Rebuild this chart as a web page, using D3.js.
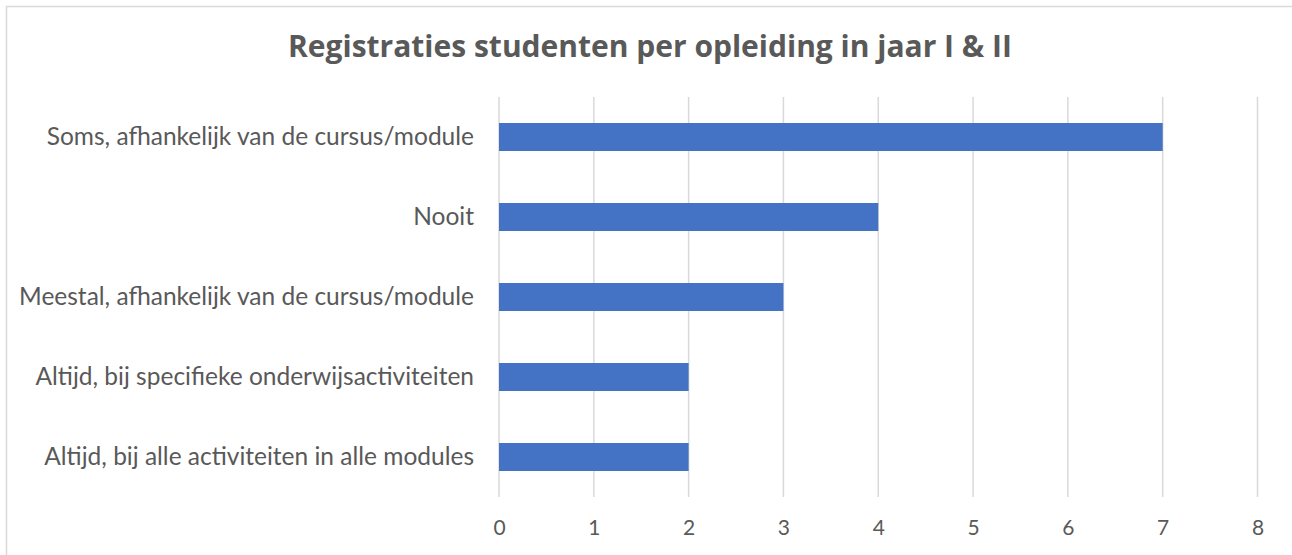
<!DOCTYPE html>
<html>
<head>
<meta charset="utf-8">
<script src="https://cdn.jsdelivr.net/npm/d3@7"></script>
<style>
  html, body { margin: 0; padding: 0; background: #fff; }
  svg { display: block; }
</style>
</head>
<body>
<svg id="chart"></svg>
<script>
// data
const categories = [
    "Soms, afhankelijk van de cursus/module",
    "Nooit",
    "Meestal, afhankelijk van de cursus/module",
    "Altijd, bij specifieke onderwijsactiviteiten",
    "Altijd, bij alle activiteiten in alle modules"
];
const values = [7, 4, 3, 2, 2];
const tickValues = [0, 1, 2, 3, 4, 5, 6, 7, 8];
const title = "Registraties studenten per opleiding in jaar I & II";

const width = 1292, height = 555;
const margin = { top: 97, left: 499, right: 34.5, bottom: 58 };
const font = "Lato, 'Open Sans', sans-serif";
const titleFont = "'Open Sans', Lato, sans-serif";
const textColor = "#595959";

const svg = d3.select("#chart")
    .attr("width", width)
    .attr("height", height);

// chart border
svg.append("rect")
    .attr("x", 6.5).attr("y", 6.5)
    .attr("width", width + 20).attr("height", height + 20)
    .attr("fill", "#fff")
    .attr("stroke", "#d9d9d9")
    .attr("stroke-width", 1.5);

const x = d3.scaleLinear()
    .domain([0, 8])
    .range([margin.left, width - margin.right]);

const y = d3.scaleBand()
    .domain(categories)
    .range([margin.top, height - margin.bottom])
    .paddingInner(0.65)
    .paddingOuter(0.325);

/* gridlines */
svg.append("g")
    .selectAll("line")
    .data(tickValues)
    .enter()
    .append("line")
    .attr("x1", d => x(d)).attr("x2", d => x(d))
    .attr("y1", margin.top).attr("y2", height - margin.bottom)
    .attr("stroke", "#d9d9d9")
    .attr("stroke-width", 1.5);

/* bars */
svg.append("g")
    .selectAll("rect")
    .data(values)
    .enter()
    .append("rect")
    .attr("x", x(0))
    .attr("y", (d, i) => y(categories[i]))
    .attr("width", d => x(d) - x(0))
    .attr("height", y.bandwidth())
    .attr("fill", "#4472c4");

/* x axis labels */
const xAxis = d3.axisBottom(x)
    .tickValues(tickValues)
    .tickSize(0)
    .tickPadding(23);

const gx = svg.append("g")
    .attr("transform", `translate(0,${height - margin.bottom})`)
    .call(xAxis);
gx.select(".domain").remove();
gx.selectAll("text")
    .attr("font-family", font)
    .attr("font-size", "21px")
    .attr("fill", textColor);

/* y axis labels */
const yAxis = d3.axisLeft(y)
    .tickSize(0)
    .tickPadding(25);

const gy = svg.append("g")
    .attr("transform", `translate(${margin.left},0)`)
    .call(yAxis);
gy.select(".domain").remove();
gy.selectAll("text")
    .attr("font-family", font)
    .attr("font-size", "24.5px")
    .attr("fill", textColor);

/* title */
svg.append("text")
    .attr("x", 650)
    .attr("y", 57)
    .attr("text-anchor", "middle")
    .attr("font-family", titleFont)
    .attr("font-weight", "bold")
    .attr("font-size", "30px")
    .attr("fill", textColor)
    .text(title);
</script>
</body>
</html>
